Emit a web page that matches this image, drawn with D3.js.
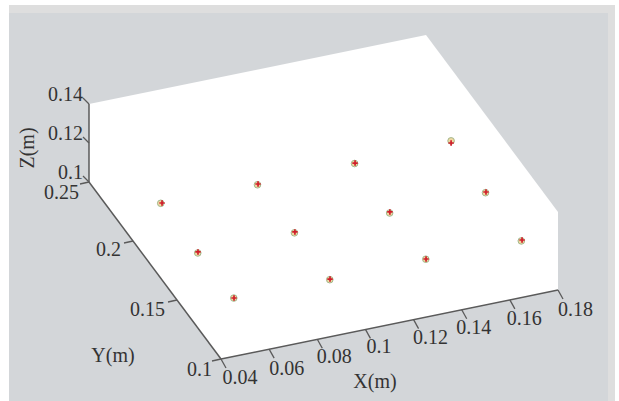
<!DOCTYPE html>
<html><head><meta charset="utf-8">
<script src="https://cdn.jsdelivr.net/npm/d3@7"></script>
<style>html,body{margin:0;padding:0;background:#fff}svg{display:block}text{font-family:"Liberation Serif",serif;font-size:20px;fill:#333}</style>
</head><body><svg id="c" width="619" height="401"></svg>
<script>
const xTicks=[0.04,0.06,0.08,0.1,0.12,0.14,0.16,0.18];
const yTicks=[0.1,0.15,0.2,0.25];
const zTicks=[0.1,0.12,0.14];
const xMeasured=[0.0502,0.0899,0.1305,0.1705,0.05,0.0903,0.1299,0.1699,0.0506,0.0903,0.1303,0.17];
const yMeasured=[0.1949,0.1944,0.1952,0.1955,0.1535,0.1536,0.154,0.1542,0.1142,0.1137,0.114,0.1135];
const zMeasured=[0.12,0.12,0.12,0.12,0.12,0.12,0.12,0.12,0.12,0.12,0.12,0.12];
const xNominal=[0.0497,0.0897,0.1303,0.1705,0.0499,0.0901,0.1298,0.1697,0.0505,0.0902,0.1302,0.1697];
const yNominal=[0.195,0.1945,0.1952,0.1955,0.1535,0.1536,0.154,0.1542,0.1142,0.1137,0.114,0.1135];
const zNominal=[0.1199,0.1196,0.1198,0.1211,0.1195,0.1196,0.1195,0.1197,0.12,0.1197,0.1199,0.1196];

const svg=d3.select("#c");
const defs=svg.append("defs");
defs.append("filter").attr("id","soft").attr("x","-20%").attr("y","-20%").attr("width","140%").attr("height","140%")
  .append("feGaussianBlur").attr("stdDeviation",0.5);

// oblique projection
const xU=d3.scaleLinear().domain([0.04,0.18]).range([221,558]);
const xV=d3.scaleLinear().domain([0.04,0.18]).range([359,290]);
const yU=d3.scaleLinear().domain([0.1,0.25]).range([0,-132]);
const yV=d3.scaleLinear().domain([0.1,0.25]).range([0,-177]);
const zV=d3.scaleLinear().domain([0.1,0.14]).range([0,-78]);
const P=(x,y,z)=>[xU(x)+yU(y),xV(x)+yV(y)+zV(z)];
const line=d3.line();

// panel
svg.append("rect").attr("x",9).attr("y",5).attr("width",606).attr("height",396).attr("fill","#dedede");
svg.append("rect").attr("x",9).attr("y",13).attr("width",599).attr("height",388).attr("fill","#d3d6d9");

const [x0,x1]=d3.extent(xTicks),[y0,y1]=d3.extent(yTicks),[z0,z1]=d3.extent(zTicks);
const g=svg.append("g").attr("filter","url(#soft)");
g.append("path").attr("fill","#fff").attr("d",line([
  P(x0,y1,z1),P(x1,y1,z1),P(x1,y0,z1),P(x1,y0,z0),P(x0,y0,z0),P(x0,y1,z0)
])+"Z");

const axisColor="#5a5a5a";
const axis=(a,b)=>g.append("path").attr("fill","none").attr("stroke",axisColor).attr("stroke-width",1.5).attr("d",line([a,b]));
axis(P(x0,y0,z0),P(x1,y0,z0));
axis(P(x0,y0,z0),P(x0,y1,z0));
axis(P(x0,y1,z0),P(x0,y1,z1));

const tick=(p,dx,dy)=>g.append("path").attr("fill","none").attr("stroke",axisColor).attr("stroke-width",1.3).attr("d",line([p,[p[0]+dx,p[1]+dy]]));
xTicks.forEach(t=>tick(P(t,y0,z0),5,9));
yTicks.forEach(t=>tick(P(x0,t,z0),-9,2));
zTicks.forEach(t=>tick(P(x0,y1,t),-6,-6));

// markers
const rings=g.append("g");
xNominal.forEach((x,i)=>{const p=P(x,yNominal[i],zNominal[i]);
  rings.append("circle").attr("cx",p[0]).attr("cy",p[1]).attr("r",3.3)
   .attr("fill","#f0d8a0").attr("stroke","#a3b88f").attr("stroke-width",1);});
xMeasured.forEach((x,i)=>{const p=P(x,yMeasured[i],zMeasured[i]);
  rings.append("path").attr("fill","none").attr("stroke","#cf1f2c").attr("stroke-width",1.7)
   .attr("d",line([[p[0]-2.7,p[1]],[p[0]+2.7,p[1]]])+line([[p[0],p[1]-2.7],[p[0],p[1]+2.7]]));});

// tick labels
const xOff=[[19,25],[17.5,26],[17,23.5],[13.6,24],[17,24],[12,24],[14.5,25],[17.5,26]];
xTicks.forEach((t,i)=>{const p=P(t,y0,z0);
  svg.append("text").attr("x",p[0]+xOff[i][0]).attr("y",p[1]+xOff[i][1]).attr("text-anchor","middle").text(String(t));});
const yOff=[[-9,17],[-12,16],[-12,15],[-10,17]];
yTicks.forEach((t,i)=>{const p=P(x0,t,z0);
  svg.append("text").attr("x",p[0]+yOff[i][0]).attr("y",p[1]+yOff[i][1]).attr("text-anchor","end").text(String(t));});
zTicks.forEach(t=>{const p=P(x0,y1,t);
  svg.append("text").attr("x",p[0]-6).attr("y",p[1]-3).attr("text-anchor","end").text(String(t));});

// axis titles
svg.append("text").attr("x",375).attr("y",388).attr("text-anchor","middle").text("X(m)");
svg.append("text").attr("x",113).attr("y",362).attr("text-anchor","middle").text("Y(m)");
svg.append("text").attr("transform","translate(34,148) rotate(-90)").attr("text-anchor","middle").text("Z(m)");
</script></body></html>
